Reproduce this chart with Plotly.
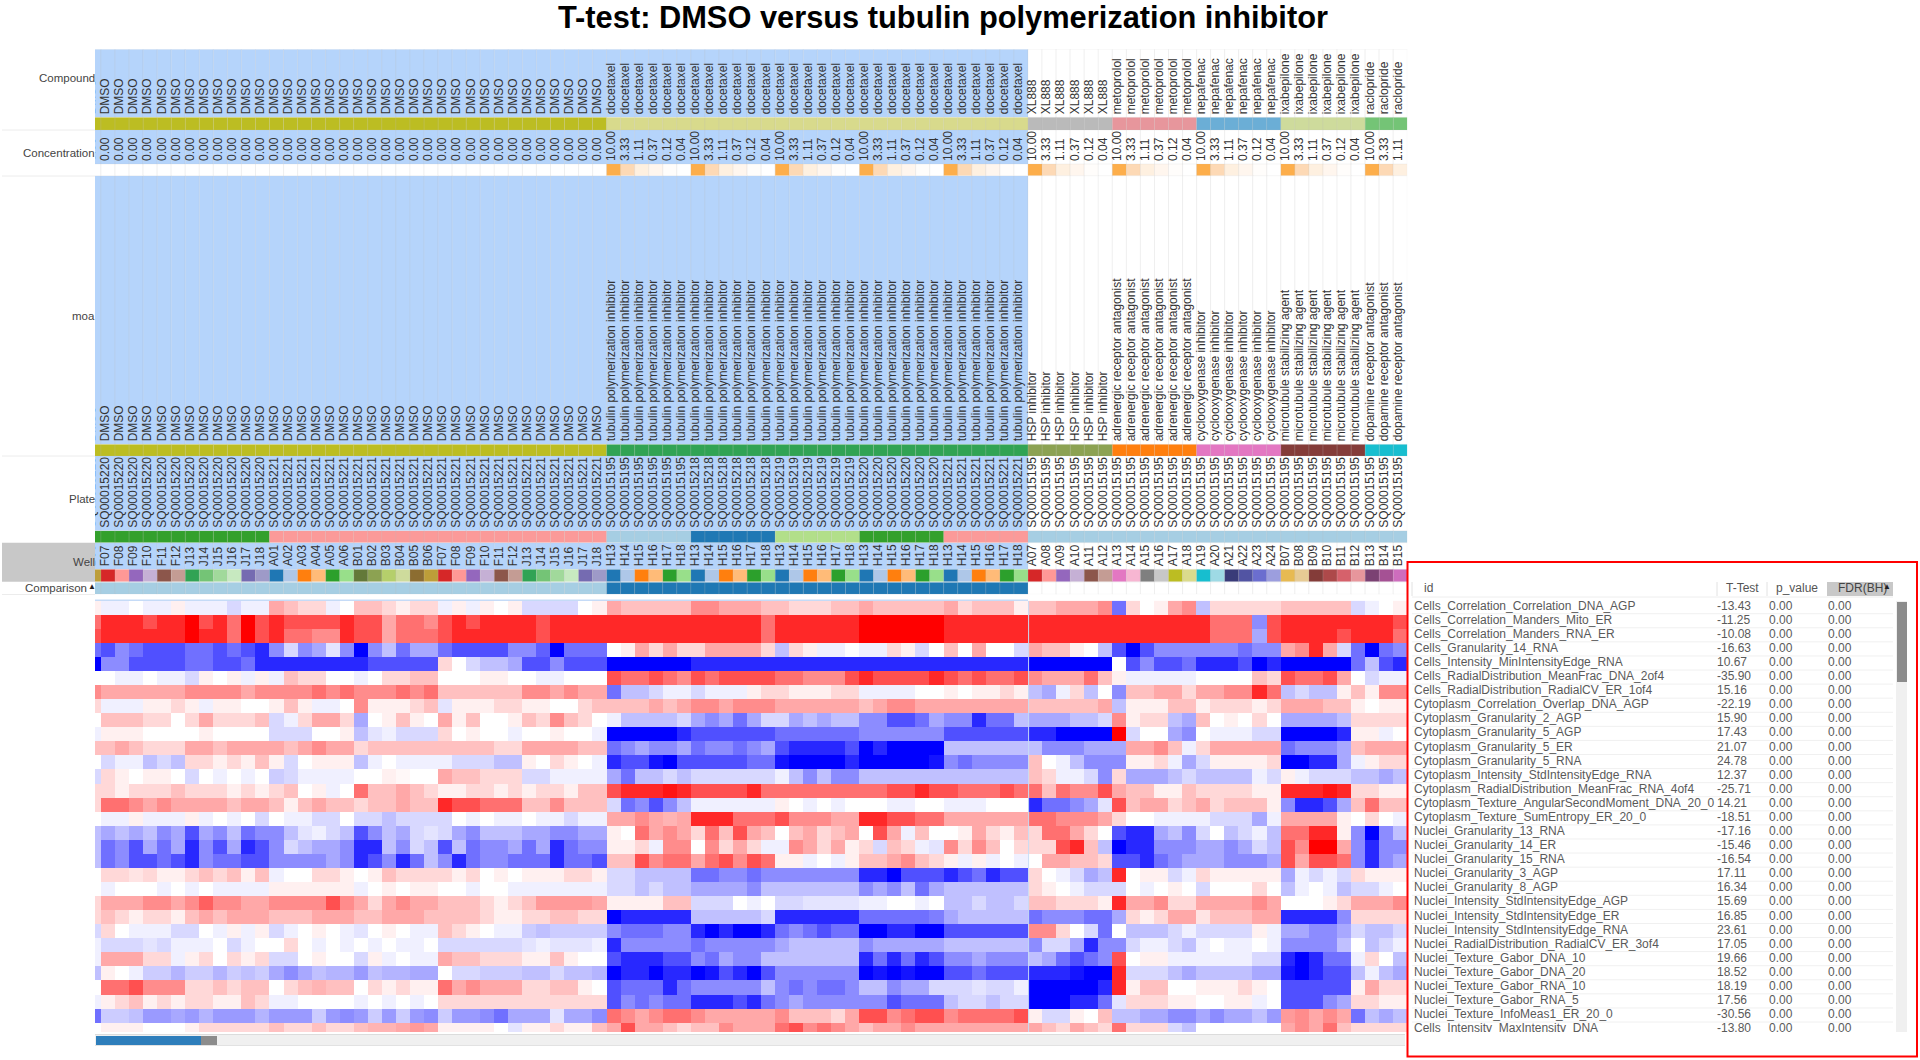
import plotly.graph_objects as go

W, H = 1920, 1060
FONT = "Liberation Sans"

compounds = ["DMSO"]*37 + ["docetaxel"]*30 + ["XL888"]*6 + ["metoprolol"]*6 + ["nepafenac"]*6 + ["ixabepilone"]*6 + ["raclopride"]*3
dose_cycle = ["10.00", "3.33", "1.11", "0.37", "0.12", "0.04"]
concentrations = ["0.00"]*37 + dose_cycle*9 + dose_cycle[:3]
moas = (["DMSO"]*37 + ["tubulin polymerization inhibitor"]*30 + ["HSP inhibitor"]*6 + ["adrenergic receptor antagonist"]*6
        + ["cyclooxygenase inhibitor"]*6 + ["microtubule stabilizing agent"]*6 + ["dopamine receptor antagonist"]*3)
plates = (["SQ00015220"]*13 + ["SQ00015221"]*24 + ["SQ00015195"]*6 + ["SQ00015218"]*6 + ["SQ00015219"]*6
          + ["SQ00015220"]*6 + ["SQ00015221"]*6 + ["SQ00015195"]*27)
dmso_wells = ["F07","F08","F09","F10","F11","F12","J13","J14","J15","J16","J17","J18"]
plate_a_wells = ["A01","A02","A03","A04","A05","A06","B01","B02","B03","B04","B05","B06"]
tub_wells = ["H13","H14","H15","H16","H17","H18"]
other_wells = ["A07","A08","A09","A10","A11","A12","A13","A14","A15","A16","A17","A18","A19","A20","A21","A22","A23","A24",
               "B07","B08","B09","B10","B11","B12","B13","B14","B15"]
wells = ["B06"] + dmso_wells + plate_a_wells + dmso_wells + tub_wells*5 + other_wells
comparison = ["DMSO"]*37 + ["tubulin"]*30 + [""]*27
n_selected = 67

compound_colors = {"DMSO":"#bcbd22","docetaxel":"#d8da8c","XL888":"#bababa","metoprolol":"#e7969c","nepafenac":"#6baed6","ixabepilone":"#cedb9c","raclopride":"#74c476"}
conc_colors = {"0.00":"#ffffff","10.00":"#fdae4b","3.33":"#fdd9b5","1.11":"#fef0e0","0.37":"#fff6ee","0.12":"#fffdfb","0.04":"#ffffff"}
moa_colors = {"DMSO":"#bcbd22","tubulin polymerization inhibitor":"#31a354","HSP inhibitor":"#8ca252","adrenergic receptor antagonist":"#ff7f0e",
              "cyclooxygenase inhibitor":"#e377c2","microtubule stabilizing agent":"#843c39","dopamine receptor antagonist":"#17becf"}
plate_colors = {"SQ00015195":"#a6cee3","SQ00015218":"#1f78b4","SQ00015219":"#b2df8a","SQ00015220":"#33a02c","SQ00015221":"#fb9a99"}
well_colors = dict(zip(
    dmso_wells + plate_a_wells + tub_wells + other_wells,
    ["#d62728","#ff9896","#9467bd","#c5b0d5","#8c564b","#c49c94","#31a354","#74c476","#a1d99b","#c7e9c0","#756bb1","#9e9ac8",
     "#1f77b4","#aec7e8","#ff7f0e","#ffbb78","#2ca02c","#98df8a","#637939","#8ca252","#b5cf6b","#cedb9c","#8c6d31","#bd9e39",
     "#1f77b4","#aec7e8","#ff7f0e","#ffbb78","#2ca02c","#98df8a",
     "#d62728","#ff9896","#9467bd","#c5b0d5","#8c564b","#c49c94","#e377c2","#f7b6d2","#7f7f7f","#c7c7c7","#bcbd22","#dbdb8d",
     "#17becf","#9edae5","#393b79","#5254a3","#6b6ecf","#9c9ede","#e7ba52","#e7cb94","#843c39","#ad494a","#d6616b","#e7969c",
     "#7b4173","#a55194","#ce6dbd"]))
comparison_colors = {"DMSO":"#a6cee3","tubulin":"#1f78b4","":"#ffffff"}

heat_row_00 = [1, -1,-1,0,-1,-1,1,-1,-1,-1,-2,-1,-1, 4,3,2,2,-1,0,3,3,2,1,2,2, -1,1,-1,1,0,1,-2,-2,-2,-2,0,1, 4,3,3,3,3,3, 5,5,4,4,4,3, 3,2,2,2,3,3, 4,3,3,3,3,3, 4,2,3,3,3,1, 3,3,4,4,4,5, -6,2,0,1,4,5, -3,2,2,2,2,2, 3,3,3,3,3,-2, -1,0,1]
heat_row_01 = [6, 8,8,8,7,8,8,9,7,8,6,9,7, 8,7,7,7,7,8,7,7,4,6,6,5, 7,8,7,8,8,8,8,7,8,8,8,8, 8,8,8,8,8,8, 8,8,8,8,8,6, 8,8,8,8,8,8, 9,9,9,9,9,9, 8,8,8,8,8,8, 8,8,8,8,8,8, 8,8,8,8,8,8, 8,6,6,6,-5,7, 8,8,8,8,8,8, 8,8,7]
heat_row_02 = [7, 8,8,8,8,8,8,9,8,8,6,9,7, 8,6,6,5,5,8,7,7,4,6,6,6, 7,8,8,8,8,8,8,7,8,8,8,8, 8,8,8,8,8,8, 8,8,8,8,8,6, 8,8,8,8,8,8, 9,9,9,9,9,9, 8,8,8,8,8,8, 8,8,8,8,8,8, 8,8,8,8,8,8, 8,6,6,6,-4,7, 8,8,8,8,7,8, 8,8,6]
heat_row_03 = [-6, -7,-5,-6,-7,-7,-7,-6,-6,-7,-6,-7,-8, -5,-2,-5,-4,-1.5,-5,-9,-5,-3,-6,-4,-4, -6,-7,-7,-7,-7,-5,-5,-6.5,-9,-6,-6,-6, 0,1,4,2,4,2, 2,4,4,4,4,2, -3,2,1,-1,-1,0, -1,-1,2,1,-2,0, 3,0,4,0,0,-2, 4,3,3,1,0,-3, -7,-9,-7,-5,-5,-5, -5,-5,-5,-6,-5,-5, 4,5,8,4,-2,-6, -9,-6,-5]
heat_row_04 = [-9, -5,-5,-7,-7,-7,-7,-6,-6,-7,-7,-6,-8, -8,-8,-8,-8,-8,-8,-8,-7,-7,-7,-7,-7, 2,0,-2,-3,-3,-4,-7,-7,-5,-7,-7,-7, -9,-9,-9,-9,-9,-9, -8,-8,-8,-8,-8,-8, -8,-8,-8,-8,-8,-8, -8,-8,-8,-8,-8,-8, -8,-8,-8,-8,-8,-8, -9,-9,-9,-9,-9,-9, 0,-7,-5,-7,-7,-6, -8,-8,-8,-7,-9,-8, -9,-9,-9,-9,-9,-6, -3,-7,-8]
heat_row_05 = [0, 0,-1,-1,0,-1,-1,-2,1,0,1,-1,1, -1,3,2,2,0,0,-1,0,2,2,3,3, 0,0,0,1,1,0,0,-1,-1,0,0,0, 7,6,6,7,6,5, 7,6,7,7,7,7, 6,6,5,5,5,7, 8,7,7,7,7,8, 7,6,7,6,6,7, 5,4,4,4,6,3, 1,-1,-1,-1,-1,-1, 0,0,0,0,3,2, 7,6,6,7,4,0, -2,-1,-1]
heat_row_06 = [5, 4,4,4,4,4,4,5,5,5,5,4,5, 5,5,5,6,5,6,5,5,5,6,5,6, 3,3,3,3,3,3,5,5,4,5,4,4, -6,-3,-3,-2,-1,-1, -2,-1,-1,-1,1,2, 2,1,1,1,2,2, -1,-1,-1,-1,0,0, 1,0,1,1,2,1, -3,-4,-1,2,-3,0, -5,3,3,4,4,2, 4,4,5,5,8,6, -3,-2,-3,-3,1,3, 1,5,5]
heat_row_07 = [2, -1,-1,-1,1,1,2,1,-1,1,1,0,0, 1,3,1,-1,-1,0,5,1,1,1,2,3, -1.5,1,1,1,2,2,1,1,0,0,2,3, 3,3,3,4,3,4, 5,5,4,5,5,5, 4,4,4,4,4,4, 3,4,5,5,4,4, 4,4,4,4,4,4, 3,3,3,3,3,4, -3,1,1,1,3,3, 1,2,2,2,1,2, 4,4,4,3,3,1, 0,1,1]
heat_row_08 = [0, 3,3,3,2,2,0,2,4,2,2,2,3, -2,-1,2,4,4,2,-4,0,1,3,1,0, 4,1,3,0,0,1,3,2,5,3,2,0, -1,-3,-3,-3,-3,-2, -4,-5,-4,-6,-4,-2, -2,-4,-3,-4,-3,-3, -5,-5,-7,-7,-6,-4, -5,-5,-8,-6,-6,-3, -4,-4,-4,-3,-3,-2, 5,1,2,2,-3,-4, 3,0,1,0,2,0, -4,-4,-4,-4,-3,2, 2,2,2]
heat_row_09 = [-1, 1,1,1,0,0,0,0,1,0,0,0,0, -2,-2,-2,0,0,1,-3,-1.5,-1,-2,-2,-2, 2,0,1,0,0,-1,0,0,1,0,0,-1, -9,-9,-9,-9,-9,-8, -7,-7,-7,-7,-7,-7, -6,-6,-6,-6,-6,-6, -5,-5,-5,-5,-5,-5, -7,-7,-7,-7,-7,-7, -8,-8,-9,-9,-9,-9, 9,-2,0,0,-4,-5, 0,-1,-1,-1,-2,-2, -9,-9,-9,-9,-8,1, 1,-1,0]
heat_row_10 = [3, 3,4,3,2,2,2,4,4,3,4,4,4, 4,3,4,5,4,4,2,3,3,3,3,3, 3,3,3,3,2,2,4,4,4,4,3,3, -6,-5,-4,-5,-5,-4, -6,-5,-5,-6,-5,-4, -7,-8,-8,-8,-8,-7, -9,-8,-9,-9,-9,-9, -3,-3,-3,-3,-3,-3, -3,-5,-5,-5,-4,-4, -4,4,4,5,3,-1, 2,4,4,4,4,4, -6,-5,-5,-5,-4,3, 4,4,4]
heat_row_11 = [0, -2,-1,-1,-3,-2,-3,2,2,1,2,1,3, 1,-2,0,1,1,1,-3,-1,0,-1,-1,-1, -1,-2,-2,-2,-3,-3,1,0,2,1,0,-1, -8,-7,-7,-8.5,-9,-7, -7,-7,-7,-7,-6,-6, -8.5,-9,-9,-9,-9,-8, -9,-9,-9.5,-9,-9,-8.5, -5,-6,-5,-5,-5,-5, 3,0,-1,-3,-5,-5, -5,1,1,2,-1,-4, -2,1,1,1,1,2, -9,-9.5,-8,-8,-4,-1, 1,2,2]
heat_row_12 = [-2, 2,1,0,1,1,0,-2,0,-1,0,-1,0, -2.5,-2,-1,-1,-1,-1,0,0,1,0.5,0,0, 4,3,3,2,2,2,-2,-2,-1,-1,-1,-1, -4,-6,-3,-3,-2,-3, -2,-2,-2,-2,-2,-2, -1,-3,-5,-3,-5,-5, -3,-3,-3,-3,-3,-3, -3,-3,-3,-3,-3,-3, 3,2,-1,-1,-2,-5, 2,-4,-4,-4,-3,-2, -3,-3,-3,-3,-1,-2, 1,-1,-2,-2,-2,-3, -3,-4,-3]
heat_row_13 = [2, 2,1,2,2,2,3,2,2,2,1,2,1, 2,3,0,1,-1,0,6,3,3,4,3,2, 1,1,2,2,1,2,1,2,2,1,3,3, 7,8,8,8,8.5,8, 7,7,7,7,8,6, 6,6,6,6,6,6, 6,6,7,7,8,7, 7,6,6,6,7,6, 6,3,6,5,5,7, 4,3,3,1,1,3, 2,2,2,2,1,1, 8,8,8,8.5,8,2, 2,1,1]
heat_row_14 = [2, 6,6,5,4,5,4,4,4,4,3,4,4, 3,1,3,4,3,3,2,3,3,4,3,3, 8,7,7,6,6,6,3,3,5,3,3,3, -2,-6,-5,-7,-5,-3, -1,-1,-1,-1,-1,-1, 1,0,-1,0,-1,0, 0,0,-1,-1,0,0, -1,-1,-1,0,0,0, -8,-6,-6,-5,-4,-1.5, 7,3,4,4,2,3, 4,2,3,3,3,1, -5,-8,-8,-7,-4,3, 6,3,3]
heat_row_15 = [0, -1,-1,1,-1,-1,-1,1,-1,0,-1,0,-2, 0,-1,-1,-2,-2,0,-2,-2,-3,-2,-2,-2, -2,0,-1,0,-1,-1,0,-1,-1,-2,-1,-1, 4,4,5,4,3.5,4, 8,8,8,6,6,6, 7,5,5,5,4,4, 8,8,7,7,6,6, 4,4,4,4,4,4, 6,6,5,5,5,4, 2,0,0,-1,-1,-1, -1,-2,-2,-2,-4,-1, 4,4,4,4,1,0, 2,0,-1]
heat_row_16 = [-3, -4,-3,-4,-3,-5,-4,-7,-4,-5,-3,-6,-5, -5,-3,-1.5,-1,-2,-3,-7,-5,-3,-4,-2,-1.5, -2,-4,-5,-3,-3,-3,-4,-4,-5,-5,-4,-4, 1,0,6,4,5,4, 2,6,3,7,4,3, 0,3,4,2,3,4, 0,7,4,-1,3,0, 0,1,4,2,1,3, 2,6,6,4,2,0, -7,-8,-8,-4,-3,-5, -2,0,-3,-2,-1,-3, 6,6,8,8,1,-5, -9,-5,-3]
heat_row_17 = [-3, -6,-5,-7,-4,-6,-4,-8,-5,-7,-4,-8,-7, -5,-2,-3,-4,-4,-5,-8,-8,-3,-5,-2,-3, -7,-3,-6,-5,-5,-4,-6,-4,-8,-6,-5,-5, 1,1,2,-1,5,5, 0,5,2,4,2,-1, -1,5,4,2,4,1, 2,-2,3,2,-1,-1.5, 5,2,5,3,0,2, 2,2,7,8,3,-3, -9,-8,-8,-5,-5,-5, -4,-4,-5,-4,-2,-3, 7,5,9,9,4,-5, -8,-5,-5]
heat_row_18 = [-3, -6,-5,-7,-7,-6,-7,-8,-5,-6,-6,-7,-7, -5,-5,-5,-5,-4,-5,-8,-7,-5,-8,-6,-3, -5,-8,-6,-5,-5,-6,-6,-6,-8,-6,-6,-7, 3,3,7,5,6,6, 4,6,7,5,7,6, 1,1,-1,0,-1,1, 3,3,4,5,3,2, 1,-1,1,-1,0,-1, 0,4,4,3,3,2, -7,-7,-8,-6,-5,-4, -4,-4,-5,-5,-5,-4, 7,4,7,7,6,-5, -8,-5,-4]
heat_row_19 = [0, 2,2,1.5,2,1,1,2,3,2,3,1,3, -1,0,0,2,2,1,0,1,3,2,2,2, 2,1,2,0,1,0,1,1,1,2,2,1, -2,-2,-3,-3,-3,-3, -6,-6,-5,-5,-6,-5, -5,-5,-5,-5,-5,-5, -8,-8,-9,-7,-7,-7, -8,-7,-6,-8,-7,-7, 2,0,-1,-2,-4,-3, 8,0,1,1,-2,-1, 2,1,1,1,1,1, -4,-1,-2,-1,-2,2, 1,1,1]
heat_row_20 = [0, -1,0,0,0,-1,0,-1,0,-1,-1,-1,-1, 1,1,1,1,1,1,-1,0,1,0,1,1, 0,0,-1,0,0,-1,-1,-1,-1,-1,-1,-1, -2,-2,-3,-2,-3,-3, -4,-4,-4,-4,-5,-3, -3,-3,-3,-3,-3,-3, -5,-4,-5,-3,-6,-4, -3,-3,-3,-3,-3,-3, 2,1,0,-1,-2,-2, -2,0,-1,0,1,0, -2,0,0,0,2,0, -3,-1,0,-1,-3,-2, -2,-1,0]
heat_row_21 = [2, 4,4,4,5,5,4,5,6.5,5,5,4,4, 5,5,5,5,7,5,4,2,4,5,4,4, 3,3,3,2,1,2,3,4.5,4.5,4.5,4.5,4, 1,1,1,1,3,3, -2,-2,-2,0,-1,0, -2,-2,-1.5,-1.5,-1.5,-1.5, -1,-1,0,0,-1,0, -3,-3,-2,-3,-3,-2, 3,3,2,2,2,1, 8,4,4,5,2,2, 4,4,4,4,5,4, 0,0,0,1,2,4, 4,4,5]
heat_row_22 = [2, 3,2,1,2,2,1,3,4,3,4,4,4, 3,3,3,4,4,4,3,3,4,4,4,3, 3,3,3,2,1,1,2,2,3,3,2,2, -9.5,-8,-8,-8,-8,-8, -3,-3,-3,-3,-3,-2, -8,-8,-8,-8,-8,-8, -6,-6,-6,-6,-6,-5.5, -4,-3,-3,-3,-3,-3, -6,-5,-5,-5,-6,-6, -4,2,1,2,4,4, 1.5,3,3,3,4,4, -8,-8,-8,-8,-5,2, 2,2,2]
heat_row_23 = [-2, 2,0,-1,-1,-1,-2,-2,0,-1,1,-1,1, -2,-1,0,1,0,-1,-1.5,0,1,0,-1,-1, 3,2,1,0,-1,-1,-2.5,-3,-2.5,-2.5,-2.5,-2.5, -5,-6,-6,-6,-5,-5, -8,-9,-8,-9,-9,-8, -6,-5,-6,-7,-6,-6, -9.5,-9,-8,-8,-9.5,-9, -7,-7,-7,-7,-7,-7, 5,5,2,0,-2,-6, 0,-3,-3,-3,-2,-1, -2,-2,-2,-2,1,-1, -4,-4,-5,-5,-4,-2, -3,-3,-2]
heat_row_24 = [-1, -2,-2,-2,-1.5,-2,-1,-1,-1,0,-2,-1,0, 0,2,0,-1,0,-1,0,-1,0,-1,-1,0, -2,-2,-2,-2,-2,-2,-1.5,-1,-1.5,-1.5,-1.5,-1, -8,-5,-5,-5,-5,-5, -6,-5,-5,-5,-5,-5, -4,-3,-3,-3,-3,-3, -5,-4,-4,-4,-4,-4, -3,-3,-3,-3,-3,-3, -5,-2,-2,-4,-8,-5, -5,-2,-1,-1,-2,-3, -1,0,-1,-1,0,-1, -5,-5,-5,-5,-3,0, -3,-2,-1]
heat_row_25 = [-1, 4,4,4,2,2,-1,1,2,0,2,1,2, -2,-2,0,1,0,0,-2,1,-1,0,-1,-1, 4,3,3,2,2,2,1,1,3,1,0,0, -7,-8,-8,-8,-7,-7, -5,-6,-4,-5,-5,-3, -3,-3,-3,-3,-3,-3, -8,-6,-8,-6,-8,-7, -5,-5,-4,-5,-5,-5, -3,-4,-6,-7,-6,-5, 7,0,1,1,-1,-1, -1,-1,-1,-1,-2,-2, -8,-9,-8,-6,-6,-1, 2,0,-3]
heat_row_26 = [-3, 1,0,-1,-2.5,-2.5,-3.5,-2.5,-2.5,-3.5,-2.5,-3,-2.5, -4,-5,-4,-3,-3.5,-3.5,-4.5,-3,-3.5,-3.5,-4,-4, 0,-2,-2,-2.5,-2.5,-2.5,-3,-3,-2,-3,-3,-3.5, -9,-8,-8,-9,-8,-8, -9,-8.5,-7,-8,-9,-7, -5,-5,-5,-5,-5,-5, -9,-8.5,-9,-8.5,-9.5,-9, -7,-7,-6,-7,-7,-7, -8,-8,-8,-8.5,-9,-9, 8,-2,-2,-2,-3,-4, -3,-3,-3,-3,-4,-4, -8.5,-9,-8,-7,-7,-3, -1,-3,-4]
heat_row_27 = [0, 6,6,7,5,5,5,2,2,3,2,3,3, 0,2,3,3.5,3,3,0,2,1,2,1,1, 6,4,5,4,4,4,2,2,3,3,1,0, -7,-6,-6,-6,-8,-6, -5,-5,-5,-5,-5,-3, -5,-6,-5,-6,-6,-5, -3,-3,-5,-4,-4,-2, -2,-2,-1.5,-2,-2,-1, -9,-9,-9.5,-9,-9,-8, 8,1,3,3,0,0, 1,1,1,2,1,0, -7,-7,-7,-7,-7,1, 4,2,2]
heat_row_28 = [-1, 1,2,3,1,2,1,2,2,1,1,3,2, -1,-1,0,0,0,0,-1,0,-1,0,-1,0, 2,2,2,2,2,2,2,2,2,2,2,2, -7,-5,-6,-5,-6,-6, -8,-8,-8,-7,-8,-6, -5,-4,-5,-5,-5,-5, -5,-5,-7,-6,-6,-6, -3,-2,-2,-3,-2,-2, -9,-9,-9,-8,-8,-6, -1.5,2,2,2,1,1, 0,0,1,1,-1,0, -7,-7,-7,-5,-4,2, 2,1,1]
heat_row_29 = [-6, -2.5,-2.5,-3,-4.5,-4.5,-4,-4.5,-3.5,-4.5,-4.5,-4.5,-3.5, -4.5,-4.5,-4.5,-2.5,-4.5,-5,-4.5,-2.5,-4.5,-2.5,-4.5,-5, -2.5,-4.5,-4.5,-5,-6,-4,-4,-4,-1.5,-4,-4,-5, 6,5,4,5,6,6, 5,4,4,4,4,4, 5,3,3,3,2,4, 7,7,5,6,7,7, 5,6,6,6,6,7, 1,-2,-2,1,0,3, -3,-3,-4,-4,-5,-5, -4,-5,-4,-4,-3,-4.5, 4.5,5,4,5,4,-6, -3,-4,-3]
heat_row_30 = [0, 1,1,1,0,0,0,1,2,2,2,2,2, 3,2,2,3,2,2,3,3.5,3.5,4,4.5,4, 1,1,1,1,0,-1.5,1,1,2,1,1,3, 4,7,4,4,3,2, 3,3,5,4,4,4, 6,7,5,6,5,4, 3,4,4,5,4,4, 4,4,4,4,4,4, 4,3,2,4,3,2, 6,2,2,2,-2,-3, 0,0,0,0,0,0, 4,5,4,6,3,2, 2,2,2]
heat_rows = [globals()[f"heat_row_{i:02d}"] for i in range(31)]
for i, r in enumerate(heat_rows):
    assert len(r) == 94, (i, len(r))

feature_names = ["Cells_Correlation_Correlation_DNA_AGP","Cells_Correlation_Manders_Mito_ER","Cells_Correlation_Manders_RNA_ER",
    "Cells_Granularity_14_RNA","Cells_Intensity_MinIntensityEdge_RNA","Cells_RadialDistribution_MeanFrac_DNA_2of4",
    "Cells_RadialDistribution_RadialCV_ER_1of4","Cytoplasm_Correlation_Overlap_DNA_AGP","Cytoplasm_Granularity_2_AGP",
    "Cytoplasm_Granularity_5_AGP","Cytoplasm_Granularity_5_ER","Cytoplasm_Granularity_5_RNA","Cytoplasm_Intensity_StdIntensityEdge_RNA",
    "Cytoplasm_RadialDistribution_MeanFrac_RNA_4of4","Cytoplasm_Texture_AngularSecondMoment_DNA_20_0","Cytoplasm_Texture_SumEntropy_ER_20_0",
    "Nuclei_Granularity_13_RNA","Nuclei_Granularity_14_ER","Nuclei_Granularity_15_RNA","Nuclei_Granularity_3_AGP","Nuclei_Granularity_8_AGP",
    "Nuclei_Intensity_StdIntensityEdge_AGP","Nuclei_Intensity_StdIntensityEdge_ER","Nuclei_Intensity_StdIntensityEdge_RNA",
    "Nuclei_RadialDistribution_RadialCV_ER_3of4","Nuclei_Texture_Gabor_DNA_10","Nuclei_Texture_Gabor_DNA_20","Nuclei_Texture_Gabor_RNA_10",
    "Nuclei_Texture_Gabor_RNA_5","Nuclei_Texture_InfoMeas1_ER_20_0","Cells_Intensity_MaxIntensity_DNA"]
t_test = ["-13.43","-11.25","-10.08","-16.63","10.67","-35.90","15.16","-22.19","15.90","17.43","21.07","24.78","12.37","-25.71","14.21",
    "-18.51","-17.16","-15.46","-16.54","17.11","16.34","15.69","16.85","23.61","17.05","19.66","18.52","18.19","17.56","-30.56","-13.80"]
p_value = ["0.00"]*31
fdr_bh = ["0.00"]*31

# ---- layout helpers (pixels of the 1920x1060 page)
def fx(px): return px / W
def fy(py): return 1 - py / H

n = len(wells)
columns = list(range(n))
X_LEFT, X_RIGHT = 95, 1407.3
X_RANGE = [0.0745, 93.5]

fig = go.Figure()
layout = dict(
    width=W, height=H, margin=dict(l=0, r=0, t=0, b=0), paper_bgcolor="white", plot_bgcolor="rgba(0,0,0,0)",
    barmode="overlay", showlegend=False, hovermode=False,
    xaxis=dict(domain=[fx(X_LEFT), fx(X_RIGHT)], range=X_RANGE, visible=False, anchor="y", fixedrange=True),
)

SEL_BLUE = "#b5d4fb"
bg_colors = [SEL_BLUE if i < n_selected else "#ffffff" for i in columns]
sep = "rgba(185,185,185,0.16)"
axis_no = [0]
def new_y(top, bottom, rng=(0, 1)):
    axis_no[0] += 1
    k = axis_no[0]
    name = "yaxis" if k == 1 else f"yaxis{k}"
    layout[name] = dict(domain=[fy(bottom), fy(top)], range=list(rng), visible=False, anchor="x", fixedrange=True)
    return "y" if k == 1 else f"y{k}"

def add_text_layer(labels, top, bottom):
    ya = new_y(top, bottom)
    fig.add_trace(go.Bar(x=columns, y=[1]*n, width=1, marker=dict(color=bg_colors, line=dict(color=sep, width=1)), yaxis=ya, xaxis="x"))
    fig.add_trace(go.Bar(x=columns, y=[1]*n, width=1, offset=-0.69, marker=dict(color="rgba(0,0,0,0)", line=dict(width=0)),
                         text=labels, textposition="inside", insidetextanchor="start", textangle=-90, constraintext="none",
                         cliponaxis=True, textfont=dict(family=FONT, size=12, color="#333333"), yaxis=ya, xaxis="x"))

def add_band(colors, top, bottom):
    ya = new_y(top, bottom)
    fig.add_trace(go.Bar(x=columns, y=[1]*n, width=1, marker=dict(color=colors, line=dict(color=sep, width=1)), yaxis=ya, xaxis="x"))

add_text_layer(compounds, 49.3, 117.3)
add_band([compound_colors[v] for v in compounds], 117.3, 130)
add_text_layer(concentrations, 130, 164)
add_band([conc_colors[v] for v in concentrations], 164, 175.7)
add_text_layer(moas, 175.7, 444.3)
add_band([moa_colors[v] for v in moas], 444.3, 456)
add_text_layer(plates, 456, 530.7)
add_band([plate_colors[v] for v in plates], 530.7, 542.7)
add_text_layer(wells, 542.7, 569.3)
add_band([well_colors[v] for v in wells], 569.3, 581.7)
add_band([comparison_colors[v] for v in comparison], 582.2, 594.3)

# the cell colours of the reference fall off non-linearly with the level
heat_levels = [0, 1, 2, 3, 4, 5, 6, 7, 8, 9]
heat_fade = [255, 240, 216, 192, 168, 140, 112, 80, 40, 0]
heat_scale = []
for lv, g in reversed(list(zip(heat_levels, heat_fade))[1:]):
    heat_scale.append([(9 - lv) / 18, f"rgb({g},{g},255)"])
for lv, g in zip(heat_levels, heat_fade):
    heat_scale.append([(9 + lv) / 18, f"rgb(255,{g},{g})"])

heat_y = new_y(600.7, 1032, (30.15, -0.5))
fig.add_trace(go.Heatmap(z=heat_rows, x=columns, y=list(range(len(heat_rows))), xaxis="x", yaxis=heat_y, zmin=-9, zmax=9, showscale=False,
                         colorscale=heat_scale, xgap=0, ygap=0, hoverinfo="skip"))

# ---- feature table, a clipped text subplot
TBL_L, TBL_R, TBL_T, TBL_B = 1409, 1895, 601, 1032
layout["xaxis2"] = dict(domain=[fx(TBL_L), fx(TBL_R)], range=[TBL_L, TBL_R], visible=False, anchor="y99", fixedrange=True)
layout["yaxis99"] = dict(domain=[fy(TBL_B), fy(TBL_T)], range=[30.2, -0.405], visible=False, anchor="x2", fixedrange=True)
rows = list(range(len(feature_names)))
table_cols = [(1414, feature_names), (1717, t_test), (1769, p_value), (1828, fdr_bh)]
for col_x, col_vals in table_cols:
    fig.add_trace(go.Scatter(x=[col_x]*len(rows), y=rows, text=col_vals, mode="text", textposition="middle right", cliponaxis=True,
                             textfont=dict(family=FONT, size=12, color="#5a5a5a"), xaxis="x2", yaxis="y99"))

shapes = []
def rect(x0, y0, x1, y1, color, line=None, lw=0):
    shapes.append(dict(type="rect", xref="paper", yref="paper", x0=fx(x0), x1=fx(x1), y0=fy(y0), y1=fy(y1), fillcolor=color,
                       line=dict(color=line or color, width=lw), layer="above"))
def hline(x0, x1, y, color="#ececec", lw=1):
    shapes.append(dict(type="line", xref="paper", yref="paper", x0=fx(x0), x1=fx(x1), y0=fy(y), y1=fy(y), line=dict(color=color, width=lw), layer="above"))
def vline(x, y0, y1, color="#e6e6e6", lw=1):
    shapes.append(dict(type="line", xref="paper", yref="paper", x0=fx(x), x1=fx(x), y0=fy(y0), y1=fy(y1), line=dict(color=color, width=lw), layer="above"))

rect(2, 542.7, 95, 581.7, "#c8c8c8")
for yy in (130, 176, 456, 594.5):
    hline(2, 95, yy)
hline(95, 1028, 600.3, "#c5dbf7", 1.5)
vline(1028.6, 601, 1032, "#c8dcf5", 1)
# horizontal scrollbar under the heatmap
rect(95, 1035, 1405, 1045, "#f0f0f0")
hline(95, 1405, 1034.5, "#dcdcdc")
hline(95, 1405, 1045.5, "#e2e2e2")
rect(96, 1036, 201, 1045, "#2e7ebb")
rect(201, 1036, 217, 1045, "#8c8c8c")
# table decoration
rect(1827, 582, 1893, 596, "#c8c8c8")
hline(1412, 1893, 597, "#eeeeee")
for vx in (1412, 1717, 1767):
    vline(vx, 582, 596, "#e2e2e2")
for i in range(30):
    yy = 606.7 + 14.08 * i + 7
    hline(1412, 1893, yy, "#f0f0f0")
rect(1896, 601, 1907, 1032, "#f0f0f0")
rect(1897, 602, 1907, 682, "#8c8c8c")
# red frame
rect(1407.5, 562, 1917, 1056.5, "rgba(0,0,0,0)", "#ff0000", 2)

annotations = []
def label(px, py, text, size=11, color="#444444", xanchor="right", bold=False):
    annotations.append(dict(xref="paper", yref="paper", x=fx(px), y=fy(py), text=f"<b>{text}</b>" if bold else text, showarrow=False,
                            xanchor=xanchor, yanchor="middle", align="left", borderpad=0, borderwidth=0,
                            font=dict(family=FONT, size=size, color=color)))
label(943, 17, "T-test: DMSO versus tubulin polymerization inhibitor", size=30.8, color="#000000", xanchor="center", bold=True)
label(95, 78, "Compound", size=11.5)
label(95, 153, "Concentration", size=11.5)
label(95, 316, "moa", size=11.5)
label(95, 499, "Plate", size=11.5)
label(95, 562, "Well", size=11.5)
label(87, 588, "Comparison", size=11.5)
label(91.5, 586, "▲", size=8, color="#222222", xanchor="center")
label(1424, 588, "id", size=12, color="#555555", xanchor="left")
label(1742, 588, "T-Test", size=12, color="#555555", xanchor="center")
label(1797, 588, "p_value", size=12, color="#555555", xanchor="center")
label(1838, 588, "FDR(BH)", size=12, color="#444444", xanchor="left")
label(1886.5, 586.5, "▲", size=8, color="#222222", xanchor="center")

layout["shapes"] = shapes
layout["annotations"] = annotations
fig.update_layout(**layout)
fig.write_html("out.html", config={"displayModeBar": False}, post_script="document.body.style.margin='0';document.documentElement.style.overflow='hidden';")
